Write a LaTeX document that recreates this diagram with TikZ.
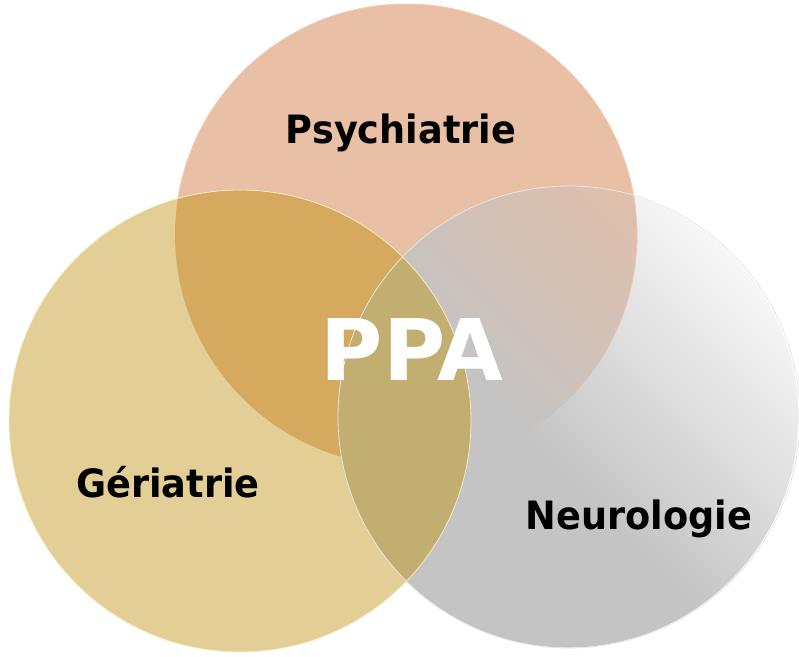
\documentclass[tikz,border=0pt]{standalone}
\usepackage{fontspec}
\setmainfont{DejaVu Sans}[FakeStretch=0.94]
\newfontfamily\ppafont{DejaVu Sans}
\usetikzlibrary{fadings}

\definecolor{psycol}{HTML}{E9BFA5}
\definecolor{gercol}{HTML}{E3CF95}
\definecolor{neucol}{HTML}{C4C4C4}
\definecolor{psyger}{HTML}{D6AA5E}
\definecolor{gerneu}{HTML}{C2AE70}
\definecolor{psyedge}{HTML}{EFCDB8}
\definecolor{geredge}{HTML}{F6EBCB}
\definecolor{neuedge}{HTML}{E6E6E6}

% opaque up to the middle, then fading out
\pgfdeclareverticalshading{neurograd}{100bp}{color(0bp)=(white); color(45bp)=(white); color(77bp)=(black!94); color(100bp)=(black!94)}
\tikzfading[name=neurofade, shading=neurograd]

\begin{document}
\begin{tikzpicture}[x=1pt, y=1pt,
    venntext/.style={font=\bfseries\fontsize{39}{39}\selectfont, anchor=base},
    rim/.style={line width=0.8pt}]
    \useasboundingbox (0,0) rectangle (799,-656);
    \def\rad{231pt}

    \coordinate (psyc) at (406,-235);
    \coordinate (gerc) at (240,-421);
    \coordinate (neuc) at (569,-417);

    % three circles
    \fill[psycol] (psyc) circle[radius=\rad];
    \draw[rim, psyedge] (psyc) circle[radius=\rad];
    \fill[neucol, path fading=neurofade, fading angle=-45] (neuc) circle[radius=\rad];
    \fill[gercol] (gerc) circle[radius=\rad];

    % overlaps
    \begin{scope}
        \clip (psyc) circle[radius=\rad];
        \fill[psyger] (gerc) circle[radius=\rad];
    \end{scope}
    \begin{scope}
        \clip (neuc) circle[radius=\rad];
        \fill[gerneu] (gerc) circle[radius=\rad];
    \end{scope}

    \draw[rim, neuedge] (neuc) circle[radius=\rad];
    \draw[rim, geredge] (gerc) circle[radius=\rad];

    \node[venntext] (psy) at (401,-143) {Psychiatrie};
    \node[venntext] (ger) at (168,-497) {Gériatrie};
    \node[venntext] (neu) at (639,-529) {Neurologie};
    \node[venntext, white, font=\ppafont\bfseries\fontsize{85}{85}\selectfont] (ppa) at (412,-380) {PPA};

\end{tikzpicture}
\end{document}
